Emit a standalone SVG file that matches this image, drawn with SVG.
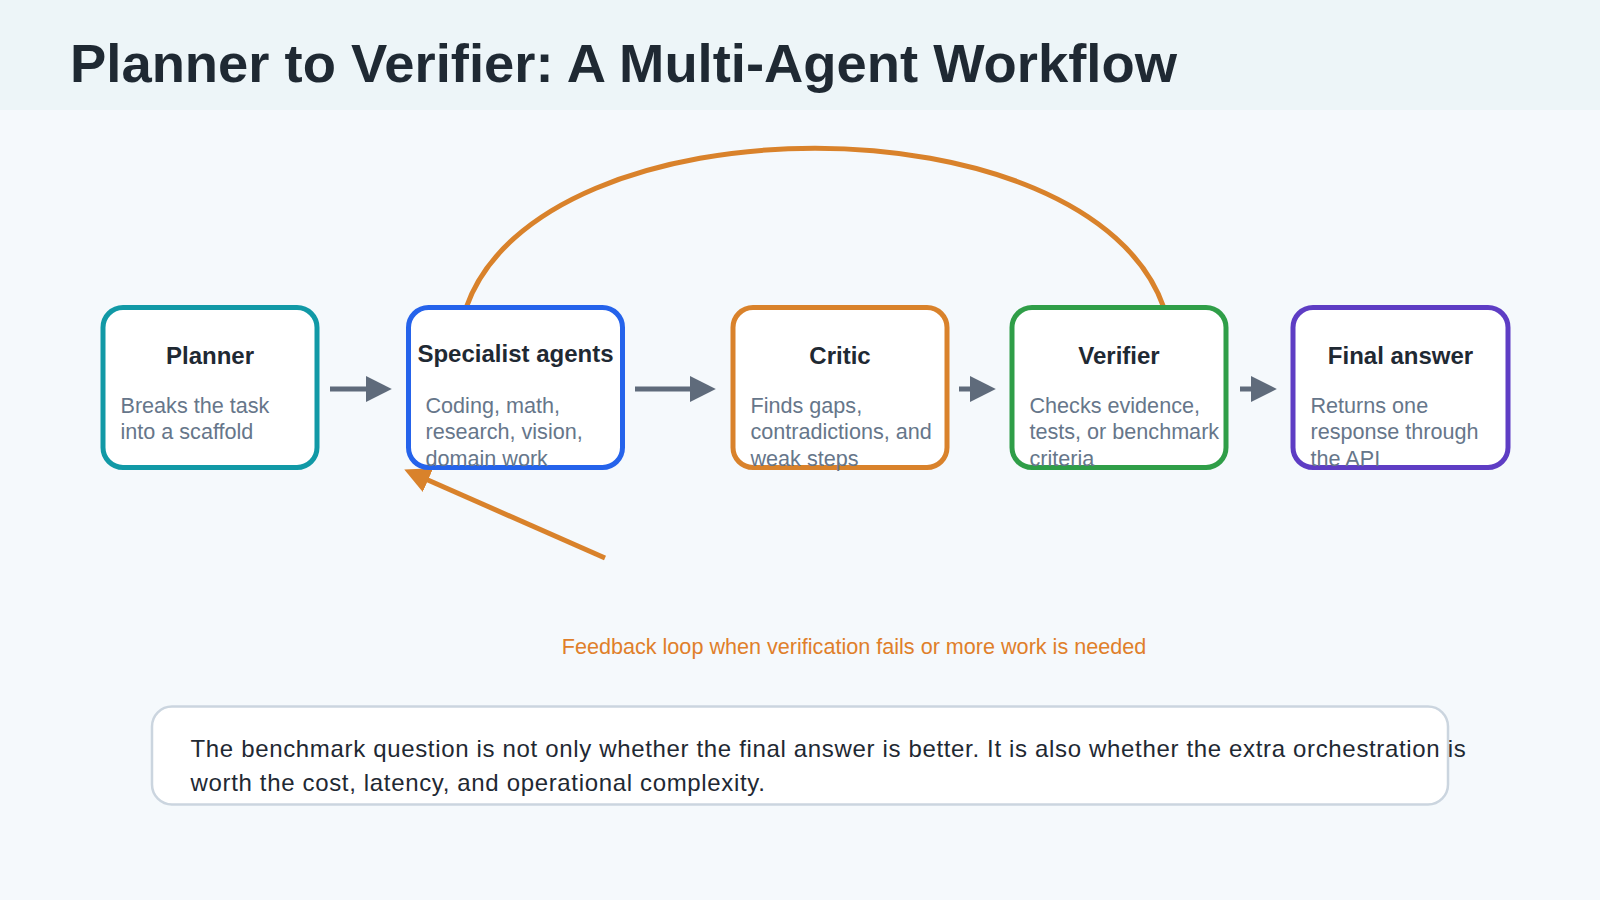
<svg xmlns="http://www.w3.org/2000/svg" width="1600" height="900" viewBox="0 0 1600 900">
<defs>
<style>
.bg{fill:#f5f9fc}
.hdr{fill:#edf5f8}
.ttl{font-family:"Liberation Sans",Arial,sans-serif;font-weight:bold;font-size:54.4px;fill:#1f2933}
.box{fill:#ffffff;stroke-width:5}
.nt{font-family:"Liberation Sans",Arial,sans-serif;font-weight:bold;font-size:24px;fill:#1f2933;text-anchor:middle}
.nd{font-family:"Liberation Sans",Arial,sans-serif;font-size:21.6px;fill:#66768a}
.flow{stroke:#5f6b7b;stroke-width:5;fill:none}
.fb{stroke:#d9822b;stroke-width:5;fill:none}
.fbl{font-family:"Liberation Sans",Arial,sans-serif;font-size:21.6px;fill:#e07f2a;text-anchor:middle}
.note{fill:#ffffff;stroke:#cbd5df;stroke-width:2.5}
.nt2{font-family:"Liberation Sans",Arial,sans-serif;font-size:24px;letter-spacing:0.66px;fill:#1f2933}
</style>
<marker id="ag" markerUnits="userSpaceOnUse" markerWidth="26" markerHeight="26" viewBox="0 0 25 25" refX="5" refY="12.5" orient="auto">
<path d="M0,0 L25,12.5 L0,25 z" fill="#5f6b7b"/>
</marker>
<marker id="ao" markerUnits="userSpaceOnUse" markerWidth="26" markerHeight="26" viewBox="0 0 25 25" refX="5" refY="12.5" orient="auto">
<path d="M0,0 L25,12.5 L0,25 z" fill="#d9822b"/>
</marker>
</defs>
<rect class="bg" x="0" y="0" width="1600" height="900"/>
<rect class="hdr" x="0" y="0" width="1600" height="110"/>
<text class="ttl" x="70" y="82">Planner to Verifier: A Multi-Agent Workflow</text>

<g id="connectors">
<line class="flow" x1="330" y1="389" x2="371" y2="389" marker-end="url(#ag)"/>
<line class="flow" x1="635" y1="389" x2="695" y2="389" marker-end="url(#ag)"/>
<line class="flow" x1="959" y1="389" x2="975" y2="389" marker-end="url(#ag)"/>
<line class="flow" x1="1240" y1="389" x2="1256" y2="389" marker-end="url(#ag)"/>
<path class="fb" d="M466,308 C540,95 1090,95 1164,308"/>
<line class="fb" x1="605" y1="558" x2="423.3" y2="478" marker-end="url(#ao)"/>
</g>

<g id="planner">
<rect class="box" x="103" y="307.5" width="214" height="160" rx="20" stroke="#1199a6"/>
<text class="nt" x="210" y="364">Planner</text>
<text class="nd" x="120.5" y="412.5">Breaks the task</text>
<text class="nd" x="120.5" y="439">into a scaffold</text>
</g>
<g id="specialist">
<rect class="box" x="408.5" y="307.5" width="214" height="160" rx="20" stroke="#2563eb"/>
<text class="nt" x="515.5" y="362">Specialist agents</text>
<text class="nd" x="425.5" y="412.5">Coding, math,</text>
<text class="nd" x="425.5" y="439">research, vision,</text>
<text class="nd" x="425.5" y="465.5">domain work</text>
</g>
<g id="critic">
<rect class="box" x="733" y="307.5" width="214" height="160" rx="20" stroke="#d9822b"/>
<text class="nt" x="840" y="364">Critic</text>
<text class="nd" x="750.5" y="412.5">Finds gaps,</text>
<text class="nd" x="750.5" y="439">contradictions, and</text>
<text class="nd" x="750.5" y="465.5">weak steps</text>
</g>
<g id="verifier">
<rect class="box" x="1012" y="307.5" width="214" height="160" rx="20" stroke="#2f9e48"/>
<text class="nt" x="1119" y="364">Verifier</text>
<text class="nd" x="1029.5" y="412.5">Checks evidence,</text>
<text class="nd" x="1029.5" y="439">tests, or benchmark</text>
<text class="nd" x="1029.5" y="465.5">criteria</text>
</g>
<g id="final">
<rect class="box" x="1293" y="307.5" width="215" height="160" rx="20" stroke="#5e3dc4"/>
<text class="nt" x="1400.5" y="364">Final answer</text>
<text class="nd" x="1310.5" y="412.5">Returns one</text>
<text class="nd" x="1310.5" y="439">response through</text>
<text class="nd" x="1310.5" y="465.5">the API</text>
</g>

<g id="feedback-label">
<text class="fbl" x="854" y="654">Feedback loop when verification fails or more work is needed</text>
</g>

<g id="note">
<rect class="note" x="152" y="706.5" width="1296" height="98" rx="20"/>
<text class="nt2" x="190.5" y="757">The benchmark question is not only whether the final answer is better. It is also whether the extra orchestration is</text>
<text class="nt2" x="190.5" y="791">worth the cost, latency, and operational complexity.</text>
</g>
</svg>
